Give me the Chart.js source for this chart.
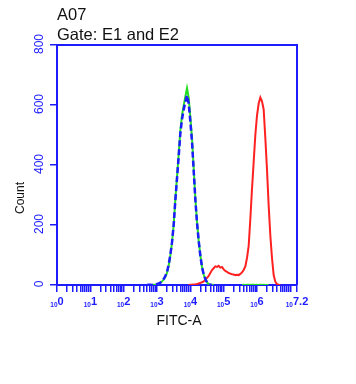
<!DOCTYPE html>
<html><head><meta charset="utf-8">
<script src="https://cdn.jsdelivr.net/npm/chart.js@4"></script>
<style>html,body{margin:0;padding:0;background:#fff}#wrap{width:356px;height:384px}</style>
</head><body><div id="wrap"><canvas id="c" width="356" height="384"></canvas></div>
<script>
const titleText = 'A07';
const subtitleText = 'Gate: E1 and E2';
const xTitle = 'FITC-A';
const yTitle = 'Count';
const xTickValues = [0, 1, 2, 3, 4, 5, 6, 7.2];
const xTickExps = ['0', '1', '2', '3', '4', '5', '6', '7.2'];
const yTickValues = [0, 200, 400, 600, 800];
const binWidth = 0.05;

const greenStart = 2.80;
const green = [0,0,1,1,2,4,7,12,18,27,40,65,98,140,200,285,360,435,515,565,598,628,656,625,560,490,390,290,210,148,100,60,35,20,9,3,1,1,0,
  null,null,null,null,null,null,null,null,null,null,null,null,null,null,null,null,
  0,1,0,1,1,0,1,1,0,1,0,1,0,1,0,0,0];

const blueStart = 2.70;
const blue = [0,1,1,0,1,2,3,5,8,13,20,30,43,68,100,142,200,282,355,428,505,552,585,610,632,605,545,478,382,285,208,148,98,60,36,20,9,3,1,0];

const redStart = 3.95;
const red = [0,1,1,2,2,3,5,7,9,12,17,24,30,40,50,56,62,60,64,58,60,52,47,44,40,38,36,35,33,34,33,37,42,50,62,90,130,220,320,410,500,565,605,625,612,585,490,385,265,165,90,33,11,3,1,0];

const BLUE = '#1c1cff';

function toPoints(start, vals) {
  return vals.map((v, i) => ({ x: +(start + i * binWidth).toFixed(3), y: v }));
}

const minorTicks = [];
for (let d = 0; d < 7; d++) for (let m = 1; m <= 9; m++) minorTicks.push(d + Math.log10(m));
minorTicks.push(7, 7.2);

const textPlugin = {
  id: 'texts',
  afterDraw(chart) {
    const ctx = chart.ctx, a = chart.chartArea;
    const xs = chart.scales.x, ys = chart.scales.y;
    ctx.save();
    // top and right border
    ctx.strokeStyle = BLUE; ctx.lineWidth = 2;
    ctx.beginPath();
    ctx.moveTo(a.left, Math.round(a.top));
    ctx.lineTo(Math.round(a.right), Math.round(a.top));
    ctx.lineTo(Math.round(a.right), a.bottom);
    ctx.stroke();
    // titles
    ctx.fillStyle = '#111';
    ctx.textAlign = 'left'; ctx.textBaseline = 'alphabetic';
    ctx.font = '16.5px "Liberation Sans", Arial, sans-serif';
    ctx.fillText(titleText, 57, 20);
    ctx.fillText(subtitleText, 57, 39.5);
    ctx.font = '14px "Liberation Sans", Arial, sans-serif';
    ctx.textAlign = 'center';
    ctx.fillText(xTitle, 179, 325);
    ctx.save();
    ctx.translate(24, 198); ctx.rotate(-Math.PI / 2);
    ctx.font = '12px "Liberation Sans", Arial, sans-serif';
    ctx.fillText(yTitle, 0, 0);
    ctx.restore();
    // y tick labels
    ctx.fillStyle = BLUE;
    ctx.font = '12px "Liberation Sans", Arial, sans-serif';
    yTickValues.forEach(v => {
      const y = ys.getPixelForValue(v) - 1;
      ctx.save();
      ctx.translate(43, y); ctx.rotate(-Math.PI / 2);
      ctx.textAlign = 'center';
      ctx.fillText(String(v), 0, 0);
      ctx.restore();
    });
    // x tick labels: small "10" + exponent
    xTickValues.forEach((v, i) => {
      const x = xs.getPixelForValue(v);
      ctx.font = 'bold 6.5px "Liberation Sans", Arial, sans-serif';
      const w1 = ctx.measureText('10').width;
      ctx.font = 'bold 11px "Liberation Sans", Arial, sans-serif';
      const w2 = ctx.measureText(xTickExps[i]).width;
      const start = x - (w1 + w2) / 2;
      ctx.textAlign = 'left';
      ctx.font = 'bold 6.5px "Liberation Sans", Arial, sans-serif';
      ctx.fillText('10', start, 307);
      ctx.font = 'bold 11px "Liberation Sans", Arial, sans-serif';
      ctx.fillText(xTickExps[i], start + w1, 305);
    });
    ctx.restore();
  }
};

new Chart(document.getElementById('c'), {
  type: 'line',
  data: {
    datasets: [
      { label: 'blue', data: toPoints(blueStart, blue), borderColor: BLUE, borderWidth: 2.5, borderDash: [6, 3], pointRadius: 0, fill: false, order: 0 },
      { label: 'green', data: toPoints(greenStart, green), borderColor: '#22dd22', borderWidth: 2, pointRadius: 0, fill: false, order: 1 },
      { label: 'red', data: toPoints(redStart, red), borderColor: '#ff2020', borderWidth: 2, pointRadius: 0, fill: false, order: 2 }
    ]
  },
  options: {
    responsive: false,
    animation: false,
    devicePixelRatio: 1,
    spanGaps: false,
    layout: { padding: { left: 0, top: 45, right: 59, bottom: 0 } },
    plugins: { legend: { display: false }, title: { display: false }, tooltip: { enabled: false } },
    scales: {
      x: {
        type: 'linear', min: 0, max: 7.2,
        afterBuildTicks: s => { s.ticks = minorTicks.map(v => ({ value: v })); },
        afterFit: s => { s.height = 99; },
        ticks: { display: false },
        grid: { drawOnChartArea: false, drawTicks: true, tickLength: 7, color: BLUE, lineWidth: 1.5 },
        border: { color: BLUE, width: 2 }
      },
      y: {
        type: 'linear', min: 0, max: 800,
        afterBuildTicks: s => { s.ticks = yTickValues.map(v => ({ value: v })); },
        afterFit: s => { s.width = 57; },
        ticks: { display: false },
        grid: { drawOnChartArea: false, drawTicks: true, tickLength: 7, color: BLUE, lineWidth: 1.5 },
        border: { color: BLUE, width: 2 }
      }
    }
  },
  plugins: [textPlugin]
});
</script></body></html>
